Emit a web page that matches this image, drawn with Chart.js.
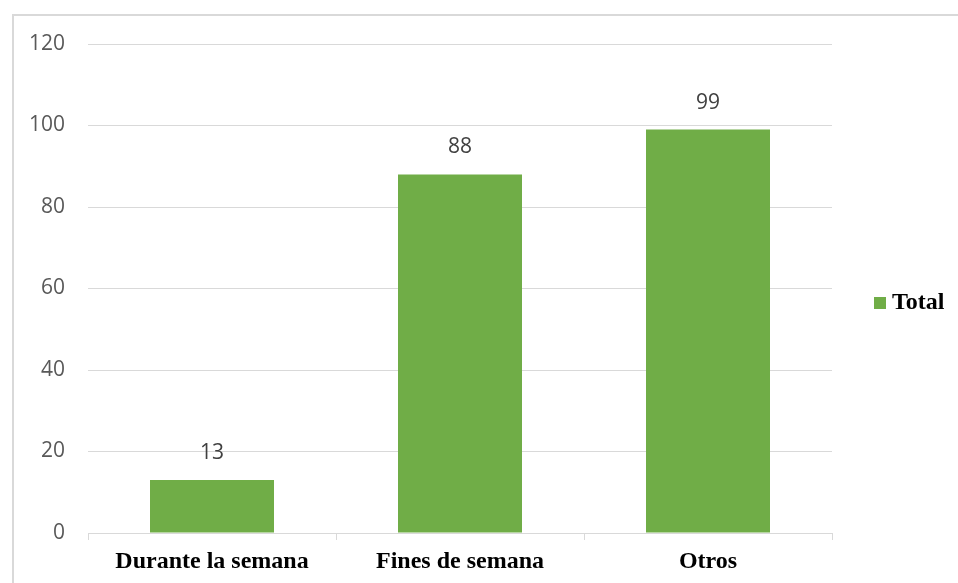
<!DOCTYPE html>
<html>
<head>
<meta charset="utf-8">
<script src="https://cdn.jsdelivr.net/npm/chart.js@4"></script>
<style>
  html, body { margin: 0; padding: 0; background: #fff; }
  #wrap { position: relative; width: 958px; height: 583px; overflow: hidden; }
  #frame { position: absolute; left: 12px; top: 14px; width: 1000px; height: 700px;
           border-left: 2px solid #d9d9d9; border-top: 2px solid #d9d9d9; }
  canvas { position: absolute; left: 0; top: 0; }
</style>
</head>
<body>
<div id="wrap">
  <div id="frame"></div>
  <canvas id="chart" width="958" height="583"></canvas>
</div>
<script>
// datos
const categories = ['Durante la semana', 'Fines de semana', 'Otros'];
const totals = [13, 88, 99];
const yTicks = [0, 20, 40, 60, 80, 100, 120];
const seriesName = 'Total';
const barColor = '#70AD47';

const sansFont = '"Open Sans", "Noto Sans", sans-serif';
const serifFont = '"Liberation Serif", "Times New Roman", serif';

// etiquetas de valor encima de cada barra
const valueLabels = {
  id: 'valueLabels',
  afterDatasetsDraw(chart) {
    const ctx = chart.ctx;
    const meta = chart.getDatasetMeta(0);
    ctx.save();
    ctx.font = '21px ' + sansFont;
    ctx.fillStyle = '#404040';
    ctx.textAlign = 'center';
    ctx.textBaseline = 'middle';
    meta.data.forEach((bar, i) => {
      ctx.fillText(String(chart.data.datasets[0].data[i]), bar.x, bar.y - 27);
    });
    ctx.restore();
  }
};

// leyenda a la derecha, estilo Excel
const sideLegend = {
  id: 'sideLegend',
  afterDraw(chart) {
    const ctx = chart.ctx;
    const area = chart.chartArea;
    const ds = chart.data.datasets[0];
    const x = area.right + 42;
    const y = 303;
    ctx.save();
    ctx.fillStyle = ds.backgroundColor;
    ctx.fillRect(x, y - 6, 12, 12);
    ctx.font = 'bold 24px ' + serifFont;
    ctx.fillStyle = '#000';
    ctx.textAlign = 'left';
    ctx.textBaseline = 'middle';
    ctx.fillText(ds.label, x + 18, y);
    ctx.restore();
  }
};

new Chart(document.getElementById('chart').getContext('2d'), {
  type: 'bar',
  data: {
    labels: categories,
    datasets: [{
      label: seriesName,
      data: totals,
      backgroundColor: barColor,
      borderWidth: 0,
      barPercentage: 0.5,
      categoryPercentage: 1
    }]
  },
  options: {
    responsive: false,
    animation: false,
    layout: { padding: { top: 44, right: 126, bottom: 0, left: 0 } },
    plugins: {
      legend: { display: false },
      tooltip: { enabled: false }
    },
    scales: {
      x: {
        grid: { display: true, drawOnChartArea: false, drawTicks: true, tickLength: 7, color: '#d9d9d9', lineWidth: 1 },
        border: { display: true, color: '#d9d9d9', width: 1 },
        ticks: { font: { family: serifFont, size: 24, weight: 'bold' }, color: '#000', padding: 7, maxRotation: 0 },
        afterFit(scale) { scale.height = 50; }
      },
      y: {
        min: yTicks[0],
        max: yTicks[yTicks.length - 1],
        grid: { color: '#d9d9d9', lineWidth: 1, drawTicks: false },
        border: { display: false },
        ticks: { stepSize: yTicks[1] - yTicks[0], font: { family: sansFont, size: 21 }, color: '#595959', padding: 23 },
        afterFit(scale) { scale.width = 88; }
      }
    }
  },
  plugins: [valueLabels, sideLegend]
});
</script>
</body>
</html>
